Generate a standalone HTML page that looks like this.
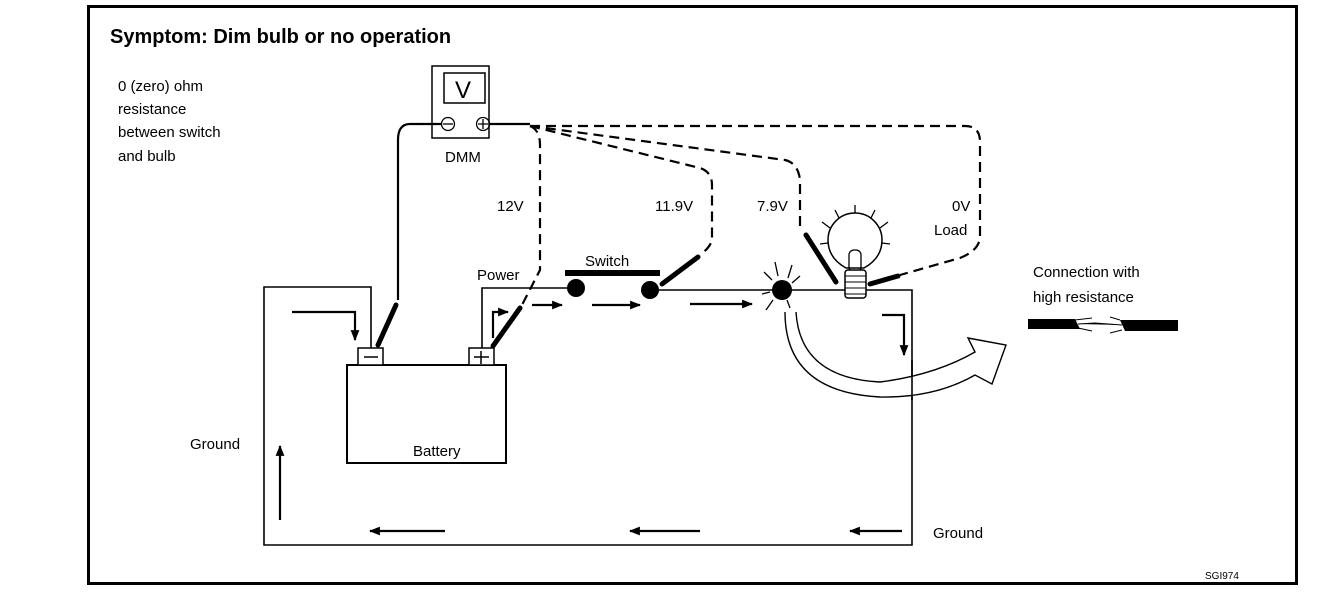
<!DOCTYPE html>
<html><head><meta charset="utf-8"><style>
html,body{margin:0;padding:0;background:#fff;}
svg{display:block;}
text{font-family:"Liberation Sans",sans-serif;fill:#000;}
</style></head><body>
<svg width="1328" height="594" viewBox="0 0 1328 594" xmlns="http://www.w3.org/2000/svg">
<defs>
<marker id="ah" viewBox="0 0 10 10" refX="9" refY="5" markerWidth="5" markerHeight="5" orient="auto"><path d="M0,1 L10,5 L0,9 Z" fill="#000"/></marker>
</defs>
<rect x="88.5" y="6.5" width="1208" height="577" fill="none" stroke="#000" stroke-width="3"/>
<!-- DMM -->
<rect x="432" y="66" width="57" height="72" fill="#fff" stroke="#000" stroke-width="1.5"/>
<rect x="444" y="73" width="41" height="30" fill="none" stroke="#000" stroke-width="1.5"/>
<text x="455" y="98" font-size="24">V</text>
<circle cx="448" cy="124" r="6.5" fill="none" stroke="#000" stroke-width="1.3"/>
<line x1="443" y1="124" x2="453" y2="124" stroke="#000" stroke-width="1.3"/>
<circle cx="483" cy="124" r="6.5" fill="none" stroke="#000" stroke-width="1.3"/>
<path d="M478,124 H488 M483,119 V129" stroke="#000" stroke-width="1.3"/>
<!-- solid probe wire -->
<path d="M441,124 H410 Q398,124 398,140 V300" fill="none" stroke="#000" stroke-width="2.2"/>
<path d="M490,124 H530" stroke="#000" stroke-width="2.2"/>
<!-- dashed probe wires -->
<g fill="none" stroke="#000" stroke-width="2.2" stroke-dasharray="10,6">
<path d="M530,126 Q540,130 540,145 V270 L522,305"/>
<path d="M530,126 L700,168 Q712,172 712,185 V238 Q712,246 700,255"/>
<path d="M530,126 L785,160 Q798,163 800,180 V228"/>
<path d="M530,126 H965 Q980,126 980,142 V236 Q980,250 960,258 L900,275"/>
</g>
<g stroke="#000" stroke-width="5" stroke-linecap="round">
<path d="M396,305 L378,345"/>
<path d="M520,308 L493,346"/>
<path d="M698,257 L662,284"/>
<path d="M806,235 L836,282"/>
<path d="M898,276 L870,284"/>
</g>
<!-- battery -->
<rect x="347" y="365" width="159" height="98" fill="#fff" stroke="#000" stroke-width="2"/>
<rect x="358" y="348" width="25" height="17" fill="#fff" stroke="#000" stroke-width="1.5"/>
<line x1="364" y1="357" x2="378" y2="357" stroke="#000" stroke-width="1.5"/>
<rect x="469" y="348" width="25" height="17" fill="#fff" stroke="#000" stroke-width="1.5"/>
<path d="M474,357 H489 M481,351 V364" stroke="#000" stroke-width="1.5"/>
<!-- circuit -->
<g fill="none" stroke="#000" stroke-width="1.6">
<path d="M371,348 V287 H264 V545 H912 V290 H858"/>
<path d="M482,348 V288 H576"/>
<path d="M650,290 H845"/>
</g>
<rect x="565" y="270" width="95" height="6" fill="#000"/>
<circle cx="576" cy="288" r="9"/>
<circle cx="650" cy="290" r="9"/>
<circle cx="782" cy="290" r="10"/>
<!-- sparks -->
<g stroke="#000" stroke-width="1.3">
<path d="M764,272 L772,280 M775,262 L778,276 M792,265 L788,278 M800,276 L792,283 M766,310 L773,300 M790,308 L787,300 M762,294 L770,292"/>
<path d="M855,205 V215 M835,210 L840,220 M875,210 L870,220 M822,222 L830,228 M888,222 L880,228 M820,244 L828,243 M890,244 L882,243"/>
</g>
<!-- bulb -->
<path d="M846,268 Q828,258 828,240 A27,27 0 1 1 882,240 Q882,258 864,268 Z" fill="#fff" stroke="#000" stroke-width="1.5"/>
<rect x="849" y="250" width="12" height="22" rx="5" fill="none" stroke="#000" stroke-width="1.3"/>
<rect x="845" y="270" width="21" height="28" rx="3" fill="#fff" stroke="#000" stroke-width="1.5"/>
<path d="M845,276 H866 M845,282 H866 M845,288 H866 M845,294 H866" stroke="#000" stroke-width="1"/>
<!-- flow arrows -->
<g stroke="#000" stroke-width="2.2" fill="none" marker-end="url(#ah)">
<path d="M292,312 H355 V340"/>
<path d="M493,338 V312 H508"/>
<path d="M532,305 H562"/>
<path d="M592,305 H640"/>
<path d="M690,304 H752"/>
<path d="M882,315 H904 V355"/>
<path d="M280,520 V446"/>
<path d="M445,531 H370"/>
<path d="M700,531 H630"/>
<path d="M902,531 H850"/>
</g>
<!-- curved arrow -->
<path d="M785,312 Q785,392 880,397 Q935,398 975,375 L992,384 L1006,345 L968,338 L975,352 Q935,375 880,382 Q800,378 796,312" fill="#fff" stroke="#000" stroke-width="1.4"/>
<line x1="912" y1="360" x2="912" y2="400" stroke="#000" stroke-width="1.6"/>
<!-- frayed wire -->
<path d="M1028,319 H1075 L1080,329 H1028 Z" fill="#000"/>
<path d="M1075,320 L1092,318 M1078,324 L1095,323 L1122,325 M1078,328 L1092,331 M1120,320 L1110,317 M1122,330 L1110,333" stroke="#000" stroke-width="1"/>
<path d="M1120,320 H1178 V331 H1125 Z" fill="#000"/>
<!-- text -->
<text x="110" y="43" font-size="20" font-weight="bold">Symptom: Dim bulb or no operation</text>
<g font-size="15">
<text x="118" y="91">0 (zero) ohm</text>
<text x="118" y="114">resistance</text>
<text x="118" y="137">between switch</text>
<text x="118" y="161">and bulb</text>
<text x="445" y="162">DMM</text>
<text x="497" y="211">12V</text>
<text x="655" y="211">11.9V</text>
<text x="757" y="211">7.9V</text>
<text x="952" y="211">0V</text>
<text x="934" y="235">Load</text>
<text x="477" y="280">Power</text>
<text x="585" y="266">Switch</text>
<text x="1033" y="277">Connection with</text>
<text x="1033" y="302">high resistance</text>
<text x="190" y="449">Ground</text>
<text x="933" y="538">Ground</text>
<text x="413" y="456">Battery</text>
</g>
<text x="1205" y="579" font-size="10">SGI974</text>
</svg>
</body></html>
